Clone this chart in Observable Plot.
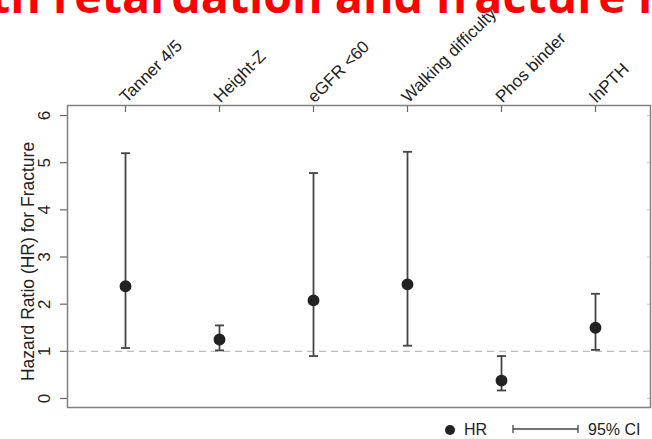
<!DOCTYPE html>
<html>
<head>
<meta charset="utf-8">
<script src="https://cdn.jsdelivr.net/npm/d3@7"></script>
<script src="https://cdn.jsdelivr.net/npm/@observablehq/plot@0.6"></script>
<style>
  html, body { margin: 0; padding: 0; background: #fff; }
  body { width: 652px; height: 439px; overflow: hidden; position: relative; font-family: "Liberation Sans", Arial, sans-serif; }
  #title { position: absolute; top: -25px; left: 0; white-space: nowrap; font-family: "Open Sans", sans-serif; font-weight: 700; font-size: 42px; line-height: 1; color: #ff0000; z-index: 2; }
  #chart { position: absolute; top: 0; left: 0; }
  #legend { position: absolute; top: 418px; left: 0; width: 652px; height: 21px; font-size: 16px; color: #222; }
  #legend .dot { position: absolute; left: 445px; top: 7px; width: 10px; height: 10px; border-radius: 50%; background: #222; }
  #legend .lab { position: absolute; top: 2px; line-height: 20px; }
  #legend svg { position: absolute; left: 510px; top: 4px; }
</style>
</head>
<body>
<div id="title"><span id="pre">Growth </span><span id="mid">retardation and fracture </span>risk<span id="bl" style="display:inline-block;width:0;height:0;vertical-align:baseline"></span></div>
<div id="chart"></div>
<div id="legend">
  <div class="dot"></div>
  <div class="lab" style="left:464px">HR</div>
  <svg width="72" height="14"><line x1="3" y1="7" x2="68" y2="7" stroke="#444" stroke-width="1.3"/><line x1="3" y1="3" x2="3" y2="11" stroke="#444" stroke-width="1.3"/><line x1="68" y1="3" x2="68" y2="11" stroke="#444" stroke-width="1.3"/></svg>
  <div class="lab" style="left:588px">95% CI</div>
</div>
<script>
const categories = ["Tanner 4/5", "Height-Z", "eGFR <60", "Walking difficulty", "Phos binder", "lnPTH"];
const hr    = [2.38, 1.25, 2.08, 2.42, 0.38, 1.50];
const lower = [1.07, 1.02, 0.90, 1.12, 0.17, 1.03];
const upper = [5.20, 1.55, 4.78, 5.23, 0.90, 2.22];
const yTicks = [0, 1, 2, 3, 4, 5, 6];
const refValue = 1;
const yLabel = "Hazard Ratio (HR) for Fracture";

const data = categories.map((c, i) => ({cat: c, hr: hr[i], lo: lower[i], hi: upper[i]}));

const cap = { draw(ctx) { ctx.moveTo(-4.5, 0); ctx.lineTo(4.5, 0); } };

// size and place the (cropped) slide title like the reference
const title = document.getElementById("title");
const mid = document.getElementById("mid");
const w42 = mid.getBoundingClientRect().width;
const fs = 42 * 585 / w42;
title.style.fontSize = fs + "px";
const preW = document.getElementById("pre").getBoundingClientRect().width;
title.style.left = (53 - preW) + "px";
title.style.top = "0px";
const base = document.getElementById("bl").getBoundingClientRect().top;
title.style.top = (13 - base) + "px";

const chart = Plot.plot({
  width: 652,
  height: 418,
  marginLeft: 67,
  marginRight: 2,
  marginTop: 105,
  marginBottom: 11,
  style: {fontFamily: "'Liberation Sans', Arial, sans-serif", fontSize: "17px", color: "#222", background: "white"},
  x: {type: "point", domain: categories, range: [123, 596], padding: 0},
  y: {domain: [0, 6], range: [398, 115]},
  marks: [
    Plot.ruleY([refValue], {stroke: "#bbb", strokeWidth: 1.3, strokeDasharray: "7,5"}),
    Plot.axisY({ticks: yTicks, tickSize: 7, tickFormat: () => "", stroke: "#666", strokeWidth: 1.2, label: null}),
    Plot.axisY({anchor: "right", ticks: yTicks, tickSize: -4, tickFormat: () => "", stroke: "#ccc", label: null}),
    Plot.axisX({anchor: "top", tickSize: -6, tickFormat: () => "", stroke: "#666", strokeWidth: 1.2, label: null}),
    Plot.text(yTicks, {y: d => d, text: d => String(d), frameAnchor: "left", dx: -23, rotate: -90, textAnchor: "middle", lineAnchor: "middle", fontSize: 17, fill: "#222"}),
    Plot.text([yLabel], {frameAnchor: "left", dx: -39, dy: 5, rotate: -90, textAnchor: "middle", lineAnchor: "middle", fontSize: 17.5, fill: "#222"}),
    Plot.text(categories, {x: d => d, text: d => d, frameAnchor: "top", dy: -2, dx: 1, rotate: -45, textAnchor: "start", lineAnchor: "bottom", fontSize: 17, fill: "#222"}),
    Plot.ruleX(data, {x: "cat", y1: "lo", y2: "hi", stroke: "#444", strokeWidth: 1.8}),
    Plot.dot(data, {x: "cat", y: "hi", symbol: cap, stroke: "#444", strokeWidth: 1.8, fill: "none"}),
    Plot.dot(data, {x: "cat", y: "lo", symbol: cap, stroke: "#444", strokeWidth: 1.8, fill: "none"}),
    Plot.dot(data, {x: "cat", y: "hr", r: 5.2, fill: "#222", stroke: "#222"}),
    Plot.frame({stroke: "#808080", strokeWidth: 1.5})
  ]
});
document.getElementById("chart").appendChild(chart);
</script>
</body>
</html>
